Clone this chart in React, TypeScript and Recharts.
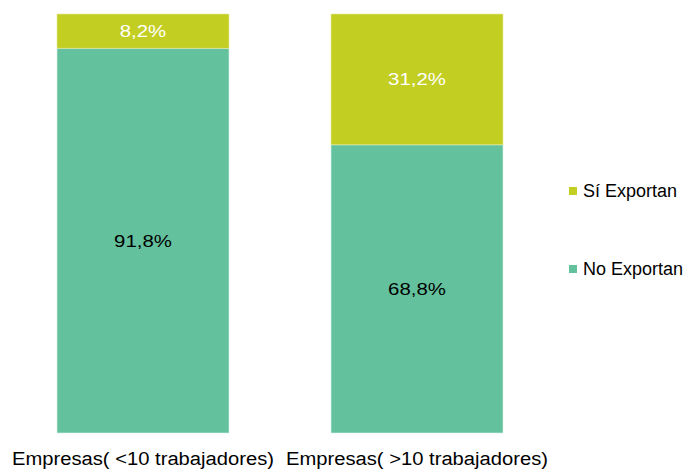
import { BarChart, Bar, XAxis, YAxis, LabelList } from 'recharts';

// categories and shares (%)
const categories = ['Empresas( <10 trabajadores)', 'Empresas( >10 trabajadores)'];
const noExportan = [91.8, 68.8];
const siExportan = [8.2, 31.2];
const seriesNames = ['Sí Exportan', 'No Exportan'];

const GREEN = '#63C29D';
const LIME = '#C3CE22';
const FONT = '"Liberation Sans", Arial, sans-serif';

const data = categories.map((name, i) => ({
  name,
  no: noExportan[i],
  si: siExportan[i],
}));

const fmt = (v: any) => `${Number(v).toFixed(1).replace('.', ',')}%`;

const CatTick = (props: any) => {
  const { x, payload } = props;
  // baseline a little above the bottom edge
  return (
    <text x={x} y={465} textAnchor="middle" fontSize={18} fill="#000" fontFamily={FONT}
      textLength={262} lengthAdjust="spacingAndGlyphs">
      {payload.value}
    </text>
  );
};

// stretched label, centred in the segment
const makeLabel = (color: string) => (props: any) => {
  const { x, y, width, height, value } = props;
  const cx = x + width / 2;
  const cy = y + height / 2;
  return (
    <text transform={`translate(${cx},${cy}) scale(1.2,1)`} textAnchor="middle" dominantBaseline="central"
      fontSize={17} fill={color} fontFamily={FONT}>
      {fmt(value)}
    </text>
  );
};

export default function App() {
  return (
    <div style={{ position: 'absolute', left: 0, top: 0, width: 686, height: 469, fontFamily: FONT }}>
      <BarChart
        width={686}
        height={469}
        data={data}
        margin={{ top: 14, right: 132, bottom: 0, left: 6 }}
        barCategoryGap={51}
      >
        <XAxis dataKey="name" axisLine={false} tickLine={false} height={36} tick={<CatTick />} interval={0} />
        <YAxis hide domain={[0, 100]} />
        <Bar dataKey="no" stackId="a" fill={GREEN} stroke="#d8f0e6" strokeWidth={0.6} isAnimationActive={false}>
          <LabelList dataKey="no" content={makeLabel('#000')} />
        </Bar>
        <Bar dataKey="si" stackId="a" fill={LIME} stroke="#e4eaa0" strokeWidth={0.6} isAnimationActive={false}>
          <LabelList dataKey="si" content={makeLabel('#fff')} />
        </Bar>
      </BarChart>
      <div style={{ position: 'absolute', left: 569, top: 181, fontSize: 18, color: '#000' }}>
        {seriesNames.map((s, i) => (
          <div key={s} style={{ display: 'flex', alignItems: 'center', height: 20, marginTop: i ? 58 : 0 }}>
            <span style={{ width: 8, height: 8, background: i ? GREEN : LIME, marginRight: 6, display: 'inline-block' }} />
            {s}
          </div>
        ))}
      </div>
    </div>
  );
}
